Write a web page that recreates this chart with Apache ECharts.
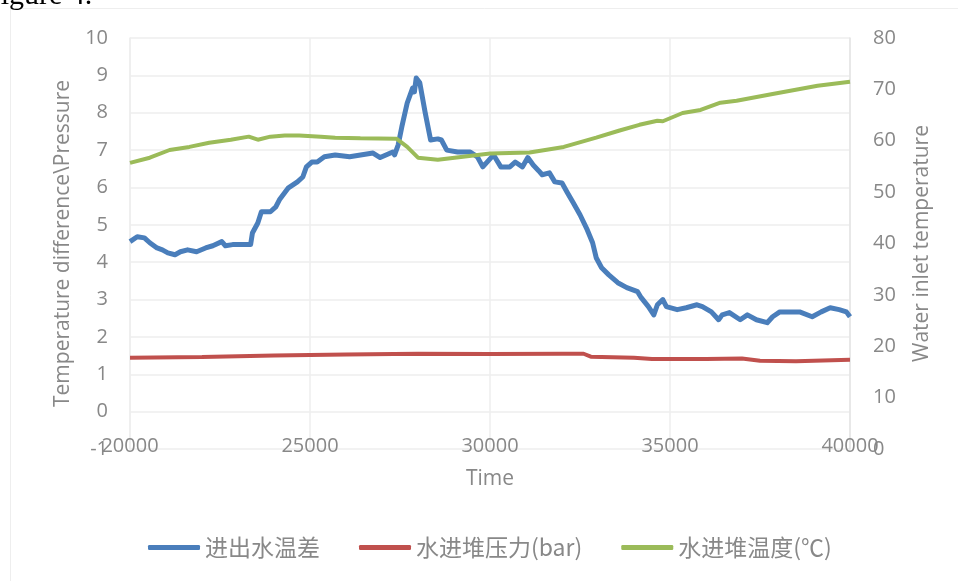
<!DOCTYPE html>
<html>
<head>
<meta charset="utf-8">
<script src="https://cdn.jsdelivr.net/npm/echarts@6/dist/echarts.min.js"></script>
<style>
  html, body { margin: 0; padding: 0; background: #fff; }
  #chart { width: 958px; height: 581px; }
</style>
</head>
<body>
<div id="chart"></div>
<script>
// Series names (legend)
const seriesNames = ['进出水温差', '水进堆压力(bar)', '水进堆温度(℃)'];

// Outlet/inlet water temperature difference, [time, value]
const tempDiff = [
  [20000, 4.55], [20200, 4.68], [20400, 4.65], [20550, 4.52], [20750, 4.38],
  [20900, 4.33], [21050, 4.25], [21250, 4.20], [21400, 4.28], [21600, 4.33],
  [21850, 4.28], [22100, 4.38], [22300, 4.44], [22550, 4.55], [22650, 4.44],
  [22850, 4.47], [23350, 4.47], [23400, 4.78], [23550, 5.05], [23650, 5.35],
  [23900, 5.35], [24050, 5.48], [24150, 5.67], [24400, 5.99], [24650, 6.15],
  [24800, 6.28], [24900, 6.55], [25050, 6.68], [25200, 6.68], [25400, 6.82],
  [25700, 6.87], [26100, 6.82], [26750, 6.92], [26950, 6.80], [27300, 6.95],
  [27350, 6.87], [27450, 7.14], [27550, 7.62], [27700, 8.26], [27850, 8.66],
  [27900, 8.56], [27950, 8.93], [28050, 8.80], [28200, 8.00], [28350, 7.27],
  [28550, 7.30], [28650, 7.27], [28800, 7.00], [29100, 6.95], [29450, 6.95],
  [29650, 6.82], [29800, 6.55], [30100, 6.87], [30300, 6.55], [30550, 6.55],
  [30700, 6.68], [30900, 6.55], [31050, 6.80], [31200, 6.60], [31350, 6.45],
  [31450, 6.34], [31650, 6.39], [31800, 6.15], [32000, 6.12], [32150, 5.86],
  [32300, 5.61], [32500, 5.27], [32700, 4.87], [32850, 4.52], [32950, 4.12],
  [33100, 3.85], [33300, 3.66], [33550, 3.45], [33800, 3.32], [34100, 3.21],
  [34200, 3.05], [34400, 2.81], [34550, 2.59], [34650, 2.86], [34800, 3.00],
  [34900, 2.81], [35200, 2.73], [35450, 2.78], [35750, 2.86], [35900, 2.81],
  [36150, 2.67], [36350, 2.46], [36450, 2.59], [36650, 2.65], [36950, 2.46],
  [37150, 2.59], [37400, 2.46], [37700, 2.38], [37850, 2.54], [38050, 2.67],
  [38600, 2.67], [38950, 2.54], [39200, 2.67], [39450, 2.78], [39700, 2.73],
  [39900, 2.67], [40000, 2.54]
];

// Inlet water pressure (bar), [time, value]
const inletPressure = [
  [20000, 1.44], [22000, 1.46], [24000, 1.50], [26000, 1.53], [28000, 1.55],
  [30000, 1.54], [32000, 1.55], [32600, 1.55], [32800, 1.47], [34000, 1.44],
  [34500, 1.41], [36000, 1.41], [37000, 1.42], [37500, 1.36], [38500, 1.35],
  [40000, 1.39]
];

// Inlet water temperature (°C), [time, value]
const inletTemp = [
  [20000, 55.7], [20550, 56.7], [21100, 58.2], [21650, 58.8], [22200, 59.6],
  [22800, 60.2], [23300, 60.8], [23550, 60.2], [23900, 60.8], [24300, 61.0],
  [24700, 61.0], [25300, 60.8], [25700, 60.6], [26400, 60.5], [27400, 60.4],
  [27700, 58.8], [28000, 56.7], [28550, 56.3], [29250, 56.9], [30000, 57.5],
  [31100, 57.7], [32050, 58.8], [32950, 60.6], [33600, 62.0], [34150, 63.1],
  [34650, 63.9], [34800, 63.8], [35350, 65.4], [35850, 66.0], [36400, 67.4],
  [36850, 67.8], [37850, 69.1], [39100, 70.7], [40000, 71.5]
];

const textColor = '#888888';
const gridColor = '#eeeeee';
const latin = '"Open Sans", "Noto Sans", sans-serif';
const cjk = '"Noto Sans CJK SC", "Open Sans", sans-serif';

const chart = echarts.init(document.getElementById('chart'), null, { renderer: 'canvas' });

chart.setOption({
  animation: false,
  backgroundColor: '#ffffff',
  graphic: [
    {
      type: 'rect',
      shape: { x: 10.5, y: 8.5, width: 980, height: 600 },
      style: { fill: 'none', stroke: '#eeeeee', lineWidth: 1 },
      silent: true
    },
    {
      type: 'text',
      x: -16,
      y: -19,
      style: { text: 'Figure 4.', font: '30px "Liberation Serif", serif', fill: '#000000', verticalAlign: 'top' },
      silent: true
    }
  ],
  grid: { left: 130, right: 108, top: 38, bottom: 132, containLabel: false },
  legend: {
    data: seriesNames,
    left: 143,
    top: 531,
    icon: 'roundRect',
    itemWidth: 52,
    itemHeight: 5,
    itemGap: 39,
    textStyle: { color: textColor, fontSize: 23, fontFamily: cjk }
  },
  xAxis: {
    type: 'value',
    min: 20000,
    max: 40000,
    interval: 5000,
    name: 'Time',
    nameLocation: 'middle',
    nameGap: 20,
    nameTextStyle: { color: textColor, fontSize: 21, fontFamily: latin },
    axisLine: { show: false },
    axisTick: { show: false },
    axisLabel: {
      color: textColor, fontSize: 20, fontFamily: latin, margin: -3, verticalAlign: 'middle',
      formatter: (v) => String(v)
    },
    splitLine: { show: true, lineStyle: { color: gridColor, width: 1.5 } }
  },
  yAxis: [
    {
      type: 'value',
      min: -1,
      max: 10,
      interval: 1,
      position: 'left',
      name: 'Temperature difference\\Pressure',
      nameLocation: 'middle',
      nameGap: 56,
      nameTextStyle: { color: textColor, fontSize: 21, fontFamily: latin },
      axisLine: { show: true, lineStyle: { color: gridColor, width: 1.5 } },
      axisTick: { show: false },
      axisLabel: { color: textColor, fontSize: 20, fontFamily: latin, margin: 22 },
      splitLine: { show: true, lineStyle: { color: gridColor, width: 1.5 } }
    },
    {
      type: 'value',
      min: 0,
      max: 80,
      interval: 10,
      position: 'right',
      name: 'Water inlet temperature',
      nameLocation: 'middle',
      nameGap: 62,
      nameTextStyle: { color: textColor, fontSize: 21, fontFamily: latin },
      axisLine: { show: true, lineStyle: { color: '#e4e4e4', width: 1.5 } },
      axisTick: { show: false },
      axisLabel: { color: textColor, fontSize: 20, fontFamily: latin, margin: 23 },
      splitLine: { show: false }
    }
  ],
  series: [
    {
      name: seriesNames[0],
      type: 'line',
      yAxisIndex: 0,
      data: tempDiff,
      showSymbol: false,
      symbol: 'none',
      lineStyle: { color: '#4a7ebb', width: 5, join: 'round' },
      itemStyle: { color: '#4a7ebb' }
    },
    {
      name: seriesNames[1],
      type: 'line',
      yAxisIndex: 0,
      data: inletPressure,
      showSymbol: false,
      symbol: 'none',
      lineStyle: { color: '#c0504d', width: 4 },
      itemStyle: { color: '#c0504d' }
    },
    {
      name: seriesNames[2],
      type: 'line',
      yAxisIndex: 1,
      data: inletTemp,
      showSymbol: false,
      symbol: 'none',
      lineStyle: { color: '#9bbb59', width: 4 },
      itemStyle: { color: '#9bbb59' }
    }
  ]
});
</script>
</body>
</html>
